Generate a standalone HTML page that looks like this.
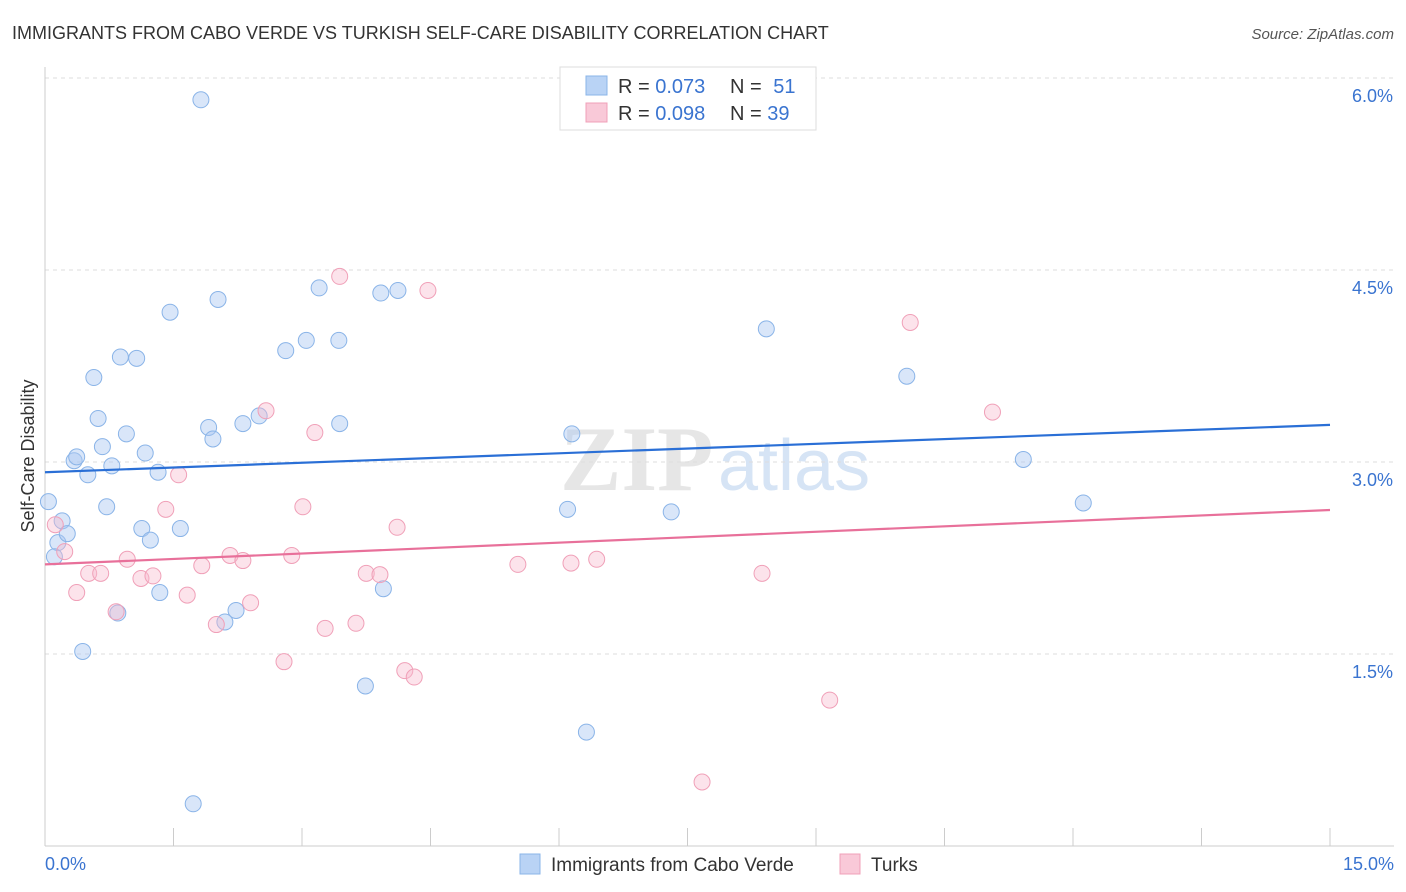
<!DOCTYPE html>
<html><head><meta charset="utf-8"><style>
body{margin:0;background:#fff;font-family:"Liberation Sans",sans-serif;}
svg{display:block}
</style></head><body>
<svg id="c" width="1406" height="892">
<text x="12" y="39" font-size="18" fill="#333">IMMIGRANTS FROM CABO VERDE VS TURKISH SELF-CARE DISABILITY CORRELATION CHART</text>
<text x="1394" y="39" font-size="15" fill="#555" font-style="italic" text-anchor="end">Source: ZipAtlas.com</text>
<text x="560" y="490" font-size="92" fill="#e6e6e6" font-family="Liberation Serif,serif" font-weight="bold">ZIP</text>
<text x="718" y="490" font-size="72" fill="#d6e4f5">atlas</text>
<g id="grid"></g>
<g id="axes"></g>
<g id="pts"></g>
<g id="lines"></g>
<text transform="translate(34,456) rotate(-90)" font-size="18" fill="#333" text-anchor="middle">Self-Care Disability</text>
<text x="45" y="870" font-size="18" fill="#3a74d0">0.0%</text>
<text x="1394" y="870" font-size="18" fill="#3a74d0" text-anchor="end">15.0%</text>
<g>
<rect x="560" y="67" width="256" height="63" fill="#fff" stroke="#ddd"/>
<rect x="586" y="76" width="21" height="19" fill="#b9d3f5" stroke="#8ab4e8"/>
<rect x="586" y="103" width="21" height="19" fill="#f9c9d8" stroke="#f0a0b8"/>
<text x="618" y="93" font-size="20" fill="#333">R = <tspan fill="#3a74d0">0.073</tspan></text>
<text x="730" y="93" font-size="20" fill="#333">N = <tspan fill="#3a74d0" dx="6">51</tspan></text>
<text x="618" y="120" font-size="20" fill="#333">R = <tspan fill="#3a74d0">0.098</tspan></text>
<text x="730" y="120" font-size="20" fill="#333">N = <tspan fill="#3a74d0">39</tspan></text>
</g>
<g>
<rect x="520" y="854" width="20" height="20" fill="#b9d3f5" stroke="#8ab4e8"/>
<text x="551" y="871" font-size="19" fill="#333">Immigrants from Cabo Verde</text>
<rect x="840" y="854" width="20" height="20" fill="#f9c9d8" stroke="#f0a0b8"/>
<text x="871" y="871" font-size="19" fill="#333">Turks</text>
</g>
</svg>
<script>
const yTicks=[1.5,3.0,4.5,6.0];
const xTicks=[0,1.5,3,4.5,6,7.5,9,10.5,12,13.5,15];
const blueX=[0.04,0.2,0.15,0.11,0.26,0.34,0.37,0.5,0.57,0.62,0.67,0.72,0.78,0.88,0.95,1.07,1.13,1.17,1.23,1.32,1.34,1.46,1.58,0.85,0.44,1.82,1.73,1.91,1.96,2.02,2.1,2.23,2.31,2.5,2.81,3.05,3.2,3.43,3.44,3.74,3.92,3.95,4.12,6.1,6.15,6.32,7.31,8.42,10.06,11.42,12.12];
const blueY=[2.69,2.54,2.37,2.26,2.44,3.01,3.04,2.9,3.66,3.34,3.12,2.65,2.97,3.82,3.22,3.81,2.48,3.07,2.39,2.92,1.98,4.17,2.48,1.82,1.52,5.83,0.33,3.27,3.18,4.27,1.75,1.84,3.3,3.36,3.87,3.95,4.36,3.95,3.3,1.25,4.32,2.01,4.34,2.63,3.22,0.89,2.61,4.04,3.67,3.02,2.68];
const pinkX=[0.12,0.23,0.37,0.51,0.65,0.83,0.96,1.12,1.26,1.41,1.56,1.66,1.83,2.0,2.16,2.31,2.4,2.58,2.79,2.88,3.01,3.15,3.27,3.44,3.63,3.75,3.91,4.11,4.2,4.31,4.47,5.52,6.14,6.44,7.67,8.37,9.16,10.1,11.06];
const pinkY=[2.51,2.3,1.98,2.13,2.13,1.83,2.24,2.09,2.11,2.63,2.9,1.96,2.19,1.73,2.27,2.23,1.9,3.4,1.44,2.27,2.65,3.23,1.7,4.45,1.74,2.13,2.12,2.49,1.37,1.32,4.34,2.2,2.21,2.24,0.5,2.13,1.14,4.09,3.39];
const blueTrend=[2.92,3.29];
const pinkTrend=[2.2,2.625];
const X=v=>45+v*(1285/15);
const Y=v=>846-v*128;
const NS="http://www.w3.org/2000/svg";
function mk(t,a,p){const e=document.createElementNS(NS,t);for(const k in a)e.setAttribute(k,a[k]);p.appendChild(e);return e;}
const grid=document.getElementById('grid'),axes=document.getElementById('axes'),pts=document.getElementById('pts'),lines=document.getElementById('lines');
yTicks.forEach(v=>{
 const l=mk('line',{x1:45,x2:1394,y1:Y(v),y2:Y(v),stroke:'#ddd','stroke-dasharray':'4,4'},grid);
 
 
 const t=mk('text',{x:1393,y:Y(v)+24,'font-size':18,fill:'#3a74d0','text-anchor':'end'},grid);
 t.textContent=v.toFixed(1)+'%';
 
 
});
const ya=mk('line',{x1:45,x2:45,y1:67,y2:846,stroke:'#ccc'},axes);


const xa=mk('line',{x1:45,x2:1394,y1:846,y2:846,stroke:'#ccc'},axes);


xTicks.forEach(v=>{
 const t=mk('line',{x1:X(v),x2:X(v),y1:828,y2:846,stroke:'#ccc'},axes);
 
 
});
function dots(xs,ys,fill,stroke,name){
 xs.forEach((v,i)=>{
  const c=mk('circle',{cx:X(v),cy:Y(ys[i]),r:8,fill:fill,stroke:stroke,'stroke-width':1},pts);
  
  
 });
}
dots(blueX,blueY,'rgba(170,200,242,0.45)','#8ab4e8','cabo-verde-point');
dots(pinkX,pinkY,'rgba(247,185,205,0.4)','#f0a0b8','turks-point');
const bl=mk('line',{x1:X(0),x2:X(15),y1:Y(blueTrend[0]),y2:Y(blueTrend[1]),stroke:'#2a6fd6','stroke-width':2.2},lines);


const pl=mk('line',{x1:X(0),x2:X(15),y1:Y(pinkTrend[0]),y2:Y(pinkTrend[1]),stroke:'#e8709a','stroke-width':2.2},lines);


</script>
</body></html>
